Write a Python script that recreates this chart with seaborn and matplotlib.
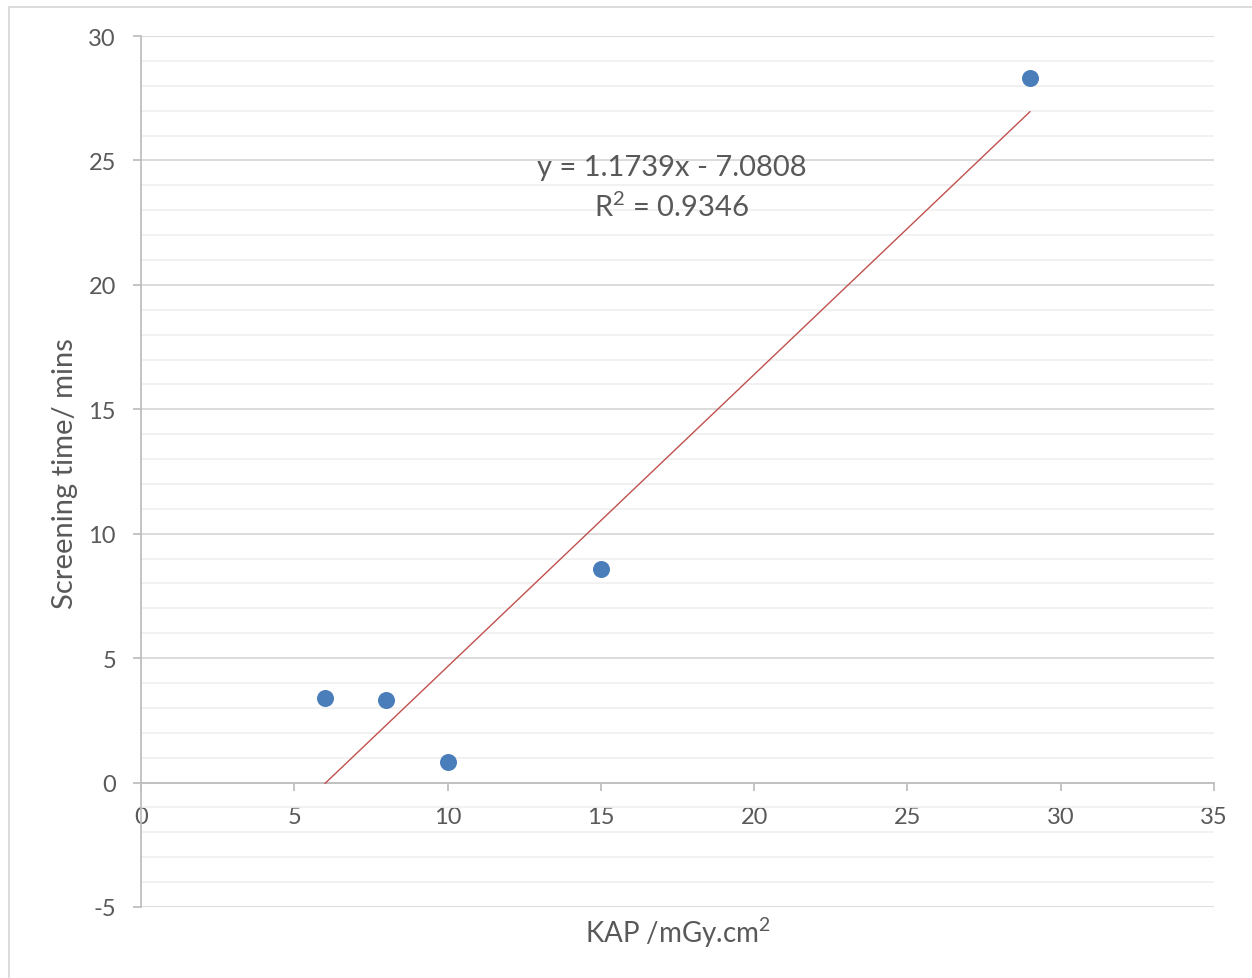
import matplotlib
matplotlib.use("Agg")
import matplotlib.pyplot as plt
import seaborn as sns
import numpy as np
import pandas as pd
from matplotlib.lines import Line2D
from matplotlib.ticker import MultipleLocator

kap = [6, 8, 10, 15, 29]
screening = [3.38, 3.32, 0.84, 8.6, 28.32]
slope = 1.1739
intercept = -7.0808
r2 = 0.9346
x_ticks = [0, 5, 10, 15, 20, 25, 30, 35]
y_ticks = [-5, 0, 5, 10, 15, 20, 25, 30]

sns.set_theme(style="white")
plt.rcParams['font.family'] = ['Lato', 'DejaVu Sans']
plt.rcParams['axes.unicode_minus'] = False
plt.rcParams['mathtext.fontset'] = 'custom'
plt.rcParams['mathtext.rm'] = 'Lato'
plt.rcParams['mathtext.it'] = 'Lato'
plt.rcParams['mathtext.default'] = 'rm'

TXT = "#595959"
fig = plt.figure(figsize=(12.52, 9.79), dpi=100)
ax = fig.add_axes([141/1252, 1-908/979, (1214-141)/1252, (908-37)/979])

df = pd.DataFrame({"kap": kap, "screening": screening})
xl = np.array([min(kap), max(kap)])
tl = pd.DataFrame({"x": xl, "y": slope * xl + intercept})
sns.lineplot(data=tl, x="x", y="y", ax=ax, color="#c0504d", lw=1.0, zorder=3)
sns.scatterplot(data=df, x="kap", y="screening", ax=ax, color="#4a7ebb",
                s=150, edgecolor="#4a7ebb", linewidth=0, zorder=4)

ax.set_xlim(0, 35)
ax.set_ylim(-5, 30)
ax.set_xticks(x_ticks)
ax.set_yticks(y_ticks)
ax.yaxis.set_minor_locator(MultipleLocator(1))
ax.grid(False)
ax.grid(axis='y', which='major', color="#d9d9d9", lw=1.3, zorder=0)
ax.grid(axis='y', which='minor', color="#f0f0f0", lw=1.3, zorder=0)
ax.set_axisbelow(True)

for s in ['top', 'right']:
    ax.spines[s].set_visible(False)
ax.spines['bottom'].set_position(('data', 0))
ax.spines['bottom'].set_color("#bfbfbf")
ax.spines['bottom'].set_linewidth(1.3)
ax.spines['left'].set_color("#bfbfbf")
ax.spines['left'].set_linewidth(1.3)

ax.tick_params(axis='x', which='major', direction='out', length=6, width=1.3,
               color="#bfbfbf", labelsize=17, labelcolor=TXT, pad=11, bottom=True)
ax.tick_params(axis='y', which='major', direction='out', length=6, width=1.3,
               color="#bfbfbf", labelsize=17, labelcolor=TXT, pad=12, left=True)
ax.tick_params(axis='y', which='minor', length=0)

ax.set_xlabel("")
ax.set_ylabel("")
fig.text(65/1252, 1-474/979, "Screening time/ mins", rotation=90, ha='center',
         va='center', fontsize=21, color=TXT)
fig.text(678/1252, 1-933/979, "KAP /mGy.cm$^{2}$", ha='center', va='center',
         fontsize=20, color=TXT)

ax.text(672/1252, 1-168/979, f"y = {slope}x - {abs(intercept)}",
        transform=fig.transFigure, ha='center', va='center', fontsize=21,
        color=TXT)
ax.text(672/1252, 1-207/979, f"R$^{{2}}$ = {r2}",
        transform=fig.transFigure, ha='center', va='center', fontsize=21,
        color=TXT)

# outer chart border
fig.add_artist(Line2D([9/1252, 9/1252], [0, 1-8/979], transform=fig.transFigure,
                      color="#d9d9d9", lw=1.3))
fig.add_artist(Line2D([9/1252, 1], [1-8/979, 1-8/979], transform=fig.transFigure,
                      color="#d9d9d9", lw=1.3))

fig.savefig("out.png", dpi=100)
